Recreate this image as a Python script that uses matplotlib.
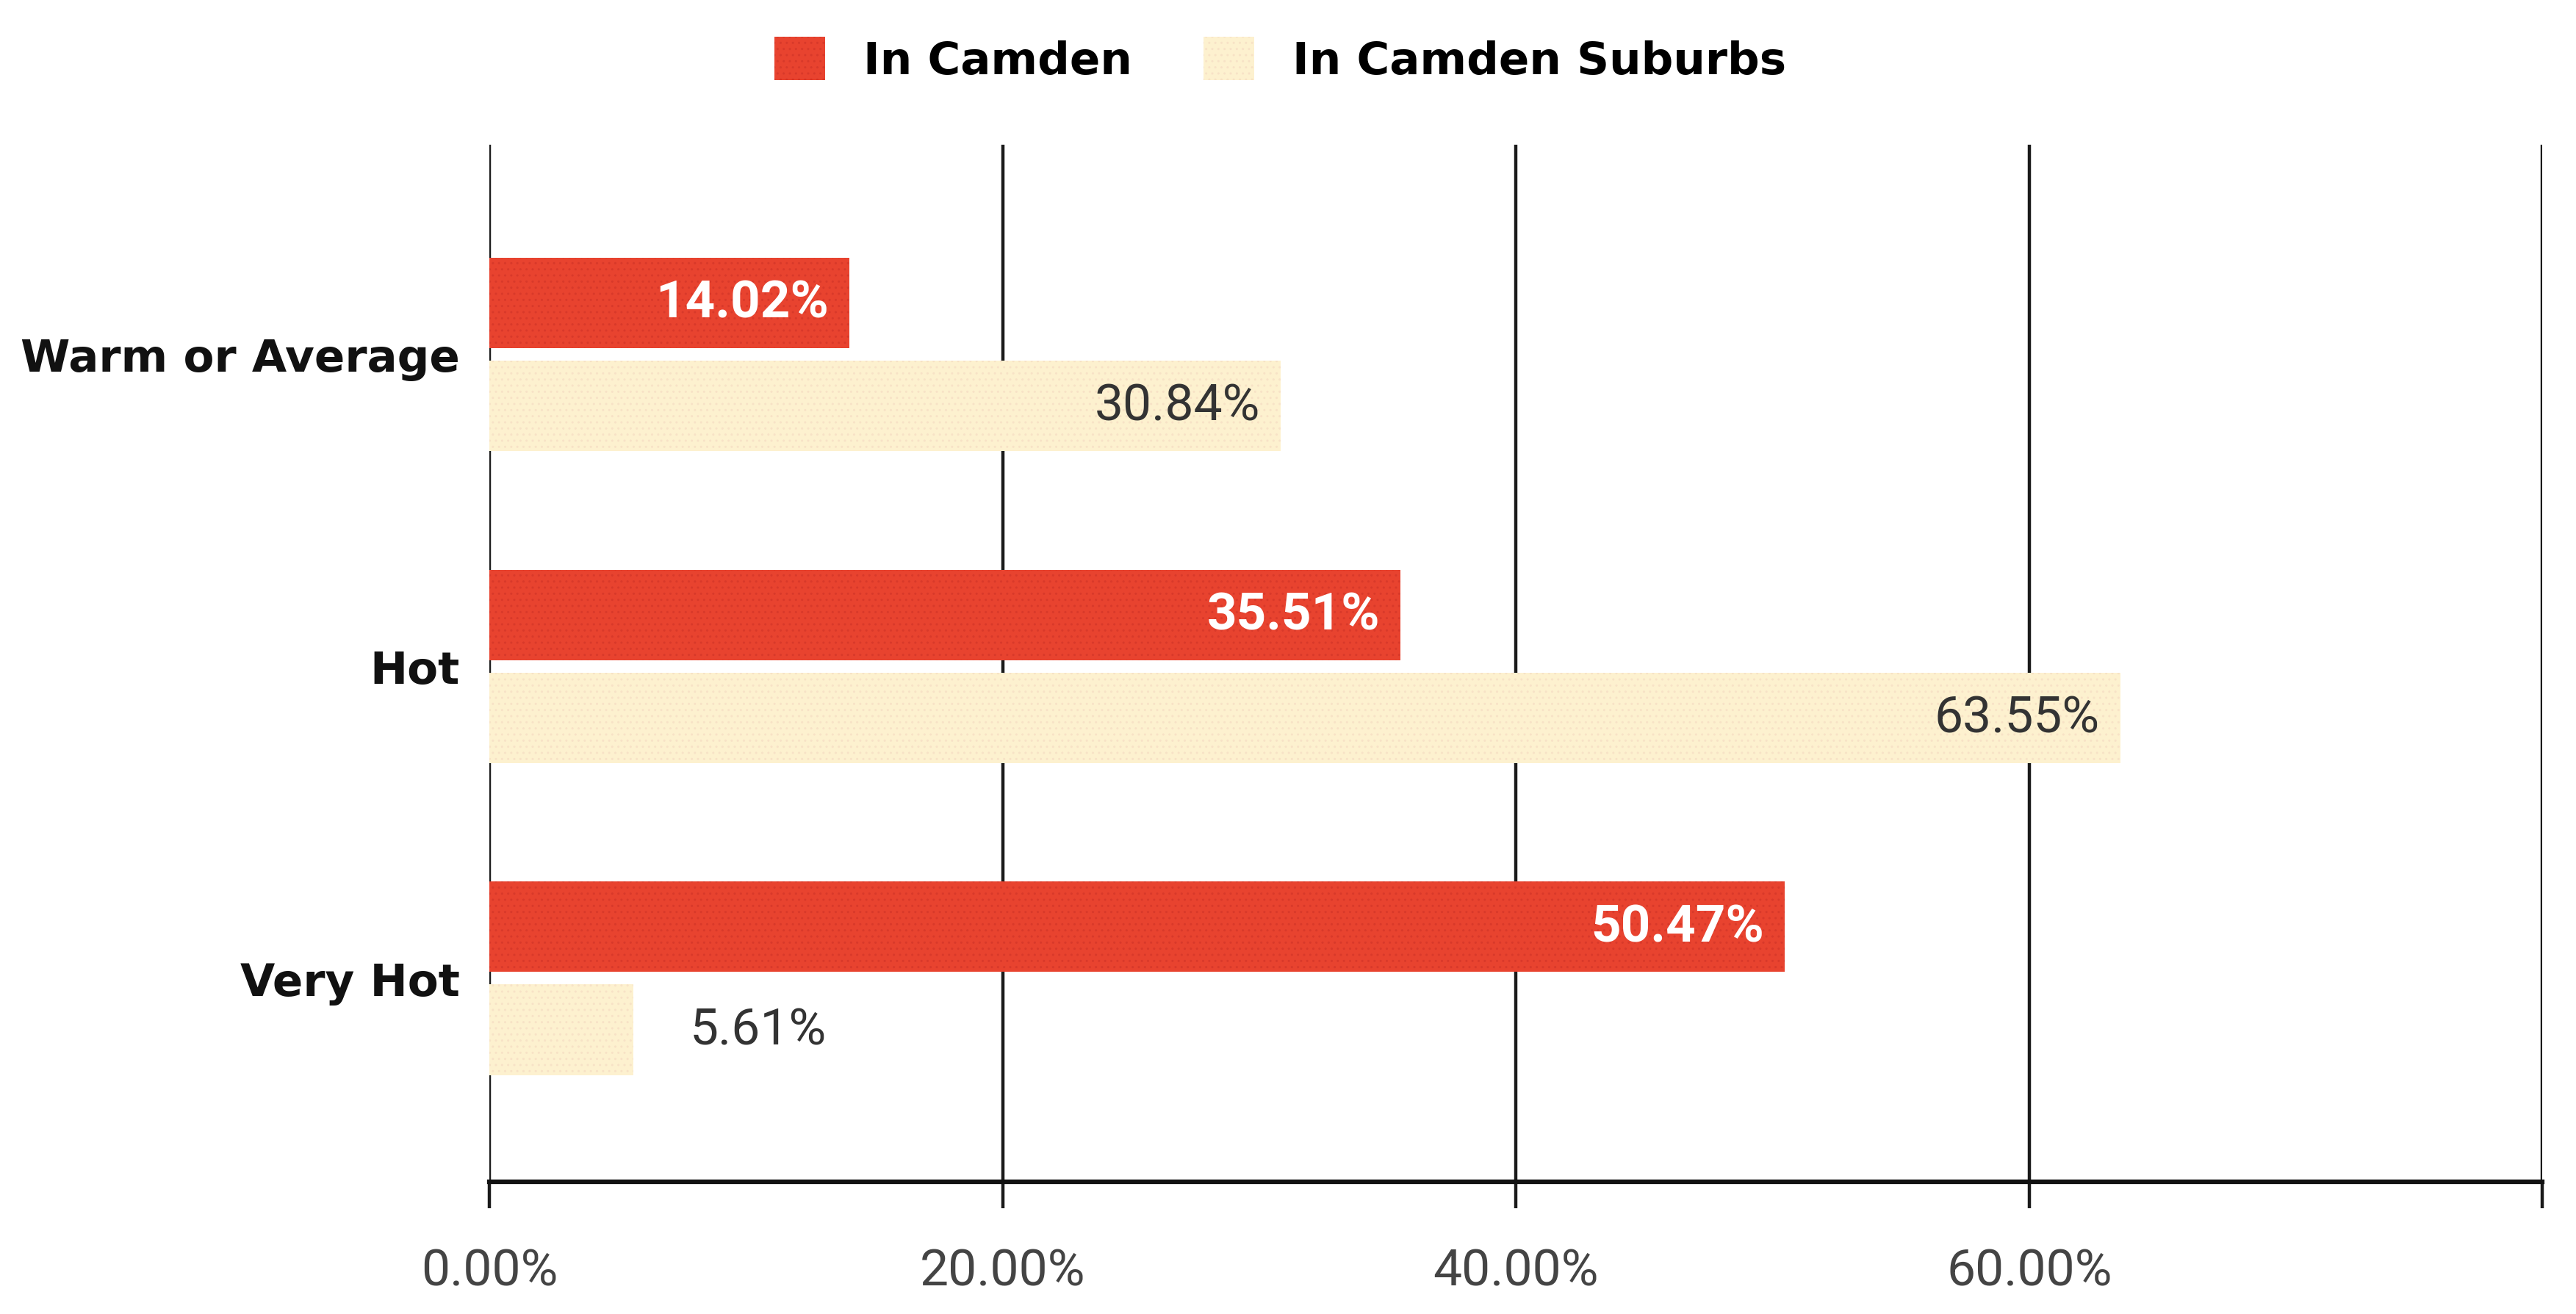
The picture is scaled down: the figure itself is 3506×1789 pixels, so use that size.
import matplotlib
matplotlib.use('Agg')
import matplotlib.pyplot as plt
from matplotlib.patches import Patch
import numpy as np

# data
categories = ['Warm or Average', 'Hot', 'Very Hot']
in_camden = [14.02, 35.51, 50.47]
in_suburbs = [30.84, 63.55, 5.61]
series_names = ['In Camden', 'In Camden Suburbs']
x_ticks = [0, 20, 40, 60, 80]
x_tick_labels = ['0.00%', '20.00%', '40.00%', '60.00%', '']

red = '#E8432F'
beige = '#FDF1CF'

fig = plt.figure(figsize=(35.06, 17.90), dpi=100)
ax = fig.add_axes([0.19, 0.1006, 0.797, 0.789])

y = np.arange(len(categories))
h = 0.29
off = 0.165

b1 = ax.barh(y - off, in_camden, height=h, color=red, edgecolor='#D8392A',
             hatch='..', linewidth=0, zorder=3)
b2 = ax.barh(y + off, in_suburbs, height=h, color=beige, edgecolor='#F7E2C6',
             hatch='..', linewidth=0, zorder=3)

# value labels
for bar, v in zip(b1, in_camden):
    ax.annotate(f'{v:.2f}%', (v, bar.get_y() + bar.get_height() / 2),
                xytext=(-20, 0), textcoords='offset points', ha='right', va='center',
                color='white', fontsize=51, fontweight='bold', family='Roboto', zorder=4)
for bar, v in zip(b2, in_suburbs):
    if v > 10:
        ax.annotate(f'{v:.2f}%', (v, bar.get_y() + bar.get_height() / 2),
                    xytext=(-20, 0), textcoords='offset points', ha='right', va='center',
                    color='#333333', fontsize=50, family='Roboto', zorder=4)
    else:
        ax.annotate(f'{v:.2f}%', (v, bar.get_y() + bar.get_height() / 2),
                    xytext=(55, 0), textcoords='offset points', ha='left', va='center',
                    color='#333333', fontsize=50, family='Roboto', zorder=4)

ax.set_xlim(0, 80)
ax.set_ylim(2.652, -0.673)
ax.set_xticks(x_ticks)
ax.set_xticklabels(x_tick_labels, family='Roboto', fontsize=50, color='#444444')
ax.set_yticks(y)
ax.set_yticklabels(categories, fontsize=44, fontweight='bold', color='#111111')

ax.tick_params(axis='x', length=26, width=3.2, color='#1a1a1a', pad=38)
ax.tick_params(axis='y', length=0, pad=29)

ax.grid(axis='x', color='#1a1a1a', linewidth=3.2, zorder=1)
ax.set_axisbelow(True)
for s in ['top', 'right', 'left']:
    ax.spines[s].set_visible(False)
ax.spines['bottom'].set_linewidth(4.5)
ax.spines['bottom'].set_color('#111111')
ax.spines['bottom'].set_zorder(5)

handles = [Patch(facecolor=red, edgecolor='#D8392A', hatch='..', linewidth=0),
           Patch(facecolor=beige, edgecolor='#F7E2C6', hatch='..', linewidth=0)]
fig.legend(handles, series_names, loc='center', bbox_to_anchor=(0.497, 0.954), ncol=2,
           frameon=False, prop={'size': 44, 'weight': 'bold'},
           handlelength=1.13, handleheight=1.13, handletextpad=0.85, columnspacing=1.6)

fig.savefig('out.png', dpi=100, facecolor='white')
